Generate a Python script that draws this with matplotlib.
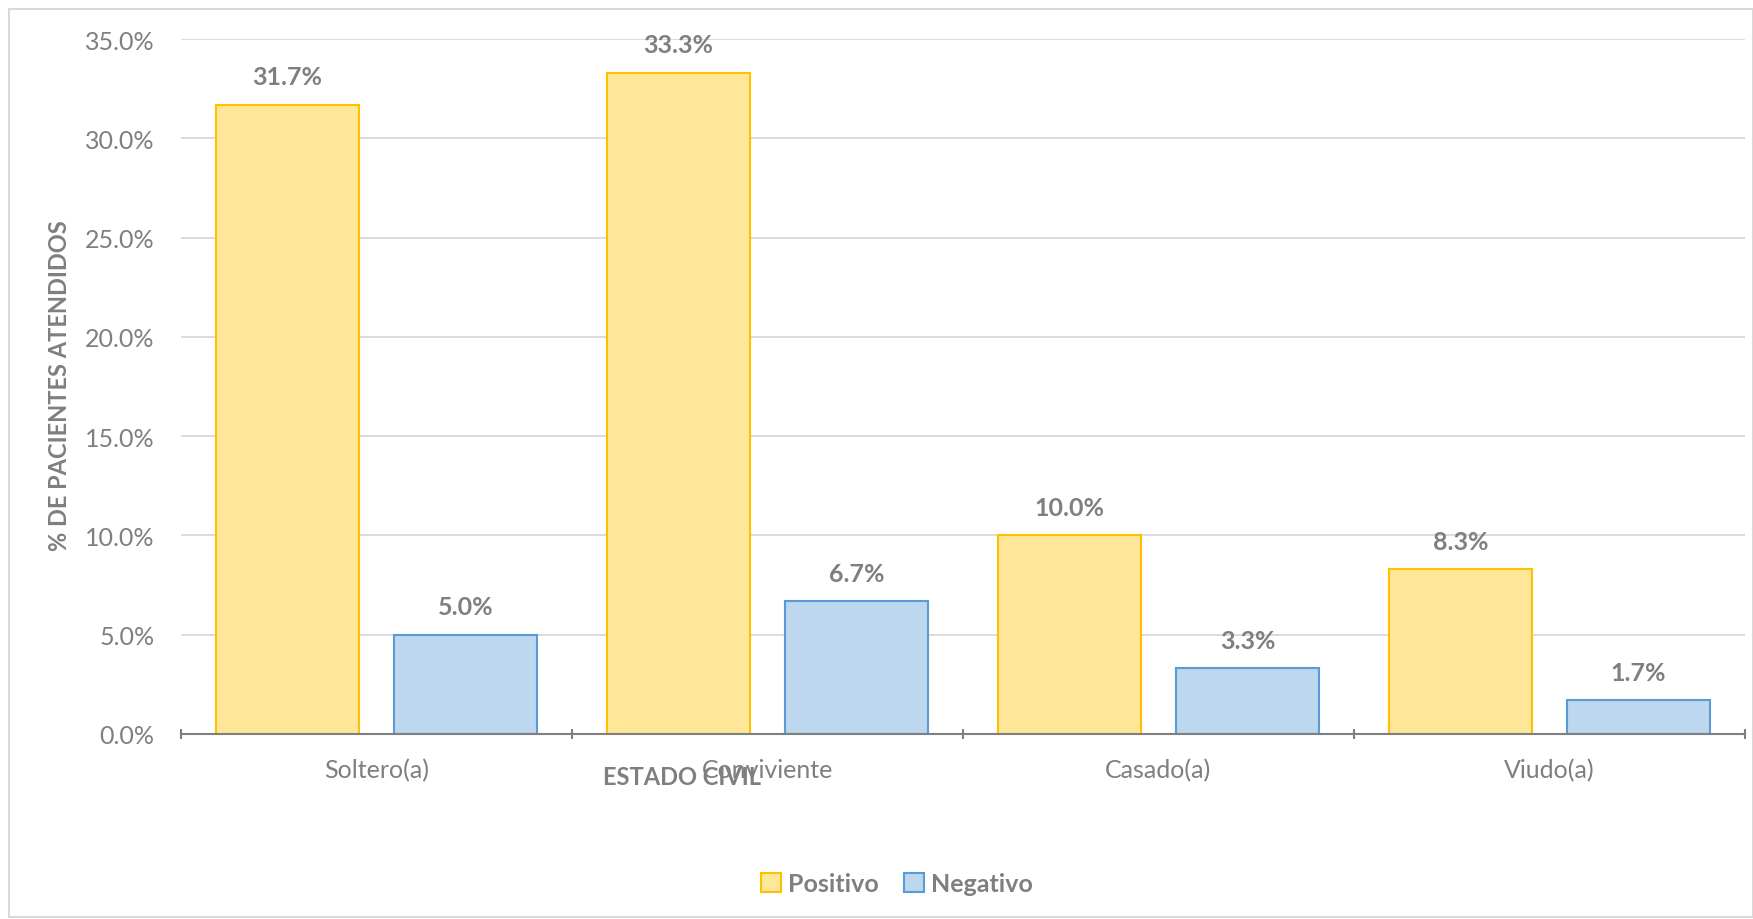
import matplotlib.pyplot as plt
import numpy as np
from matplotlib.patches import Rectangle

# Data:
categorias = ["Soltero(a)", "Conviviente", "Casado(a)", "Viudo(a)"]
positivo = [31.7, 33.3, 10.0, 8.3]
negativo = [5.0, 6.7, 3.3, 1.7]
y_ticks = [0, 5, 10, 15, 20, 25, 30, 35]

GRAY = "#7F7F7F"
W, H = 1753, 920


def main():
    plt.rcParams['font.family'] = ['Lato', 'DejaVu Sans']
    fig = plt.figure(figsize=(W / 100, H / 100), dpi=100)
    ax = fig.add_axes([181 / W, 1 - 735 / H, (1745 - 181) / W, (735 - 40) / H])

    # outer border of the chart area
    fig.patches.append(Rectangle((9 / W, 1 - 918 / H), 1 - 9 / W, (918 - 10) / H,
                                 transform=fig.transFigure, fill=False,
                                 edgecolor="#D9D9D9", linewidth=1.5))

    x = np.arange(len(categorias))
    width = 0.366
    off = 0.2276
    b1 = ax.bar(x - off, positivo, width, color="#FFE699", edgecolor="#FFC000",
                linewidth=1.5, label="Positivo", zorder=3)
    b2 = ax.bar(x + off, negativo, width, color="#BDD7EE", edgecolor="#5B9BD5",
                linewidth=1.5, label="Negativo", zorder=3)

    for bars, vals in ((b1, positivo), (b2, negativo)):
        for rect, v in zip(bars, vals):
            ax.text(rect.get_x() + rect.get_width() / 2, v + 1.4, "{:.1f}%".format(v),
                    ha="center", va="center", fontsize=18, fontweight="bold", color=GRAY)

    ax.set_xlim(-0.5, len(categorias) - 0.5)
    ax.set_ylim(0, 35)
    ax.set_yticks(y_ticks)
    ax.set_yticklabels(["{:.1f}%".format(t) for t in y_ticks])
    ax.set_xticks(x)
    ax.set_xticklabels(categorias)
    ax.set_xticks(np.arange(-0.5, len(categorias), 1.0), minor=True)
    ax.tick_params(axis="x", which="major", length=0, pad=17, labelsize=18, labelcolor=GRAY)
    ax.tick_params(axis="x", which="minor", length=7, direction="inout", color=GRAY, width=1.5)
    ax.tick_params(axis="y", length=0, pad=19, labelsize=18, labelcolor=GRAY)

    ax.grid(axis="y", color="#D9D9D9", linewidth=1.3, zorder=0)
    for s in ("top", "right", "left"):
        ax.spines[s].set_visible(False)
    ax.spines["bottom"].set_color(GRAY)
    ax.spines["bottom"].set_linewidth(1.5)
    ax.spines["bottom"].set_zorder(4)

    fig.text(682 / W, 1 - 778 / H, "ESTADO CIVIL", ha="center", va="center",
             fontsize=17, fontweight="bold", color=GRAY)
    fig.text(60 / W, 1 - 386 / H, "% DE PACIENTES ATENDIDOS", ha="center", va="center",
             rotation=90, fontsize=17, fontweight="bold", color=GRAY)

    fig.legend(handles=[b1, b2], loc="center", bbox_to_anchor=(897 / W, 1 - 885 / H),
               ncol=2, frameon=False, handlelength=0.8, handleheight=0.8,
               handletextpad=0.3, columnspacing=1.0,
               prop={"weight": "bold", "size": 18})
    for t in fig.legends[0].get_texts():
        t.set_color(GRAY)

    fig.savefig("out.png", dpi=100)


if __name__ == "__main__":
    main()
